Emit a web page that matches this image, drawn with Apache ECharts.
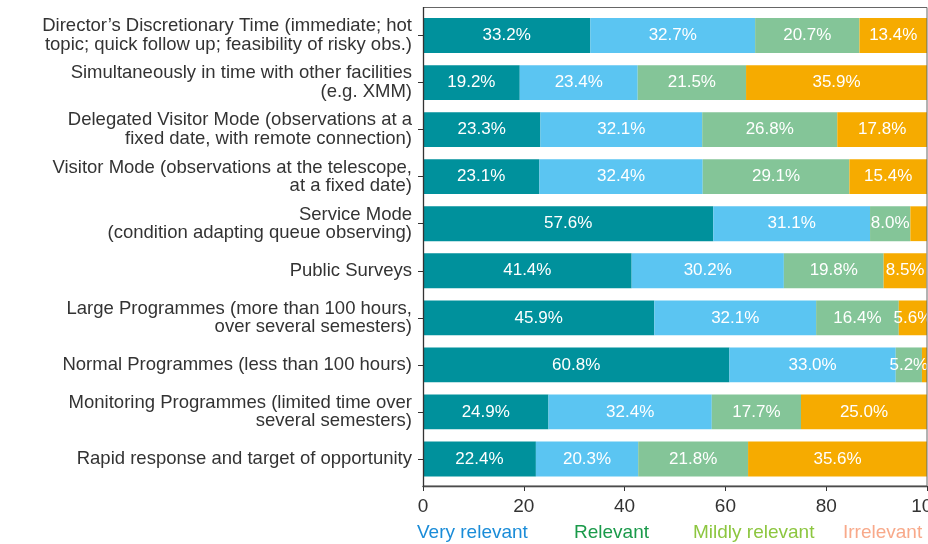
<!DOCTYPE html>
<html><head><meta charset="utf-8">
<script src="https://cdn.jsdelivr.net/npm/echarts@6/dist/echarts.min.js"></script>
<style>html,body{margin:0;padding:0;background:#fff}#c{width:928px;height:544px}</style>
</head><body><div id="c"></div>
<script>
const categories = [
  "Director’s Discretionary Time (immediate; hot\ntopic; quick follow up; feasibility of risky obs.)",
  "Simultaneously in time with other facilities\n(e.g. XMM)",
  "Delegated Visitor Mode (observations at a\nfixed date, with remote connection)",
  "Visitor Mode (observations at the telescope,\nat a fixed date)",
  "Service Mode\n(condition adapting queue observing)",
  "Public Surveys",
  "Large Programmes (more than 100 hours,\nover several semesters)",
  "Normal Programmes (less than 100 hours)",
  "Monitoring Programmes (limited time over\nseveral semesters)",
  "Rapid response and target of opportunity"
];
const seriesNames = ["Very relevant", "Relevant", "Mildly relevant", "Irrelevant"];
const veryRelevant   = [33.2, 19.2, 23.3, 23.1, 57.6, 41.4, 45.9, 60.8, 24.9, 22.4];
const relevant       = [32.7, 23.4, 32.1, 32.4, 31.1, 30.2, 32.1, 33.0, 32.4, 20.3];
const mildlyRelevant = [20.7, 21.5, 26.8, 29.1,  8.0, 19.8, 16.4,  5.2, 17.7, 21.8];
const irrelevant     = [13.4, 35.9, 17.8, 15.4,  3.3,  8.5,  5.6,  1.0, 25.0, 35.6];
const xTicks = [0, 20, 40, 60, 80, 100];

const barColors = ["#00919c", "#5bc5f2", "#84c598", "#f6ab00"];
const legendColors = ["#1a8cd8", "#1a9a4a", "#8cc63f", "#f8a98a"];
const legendLeft = [417, 574, 693, 843];
const FONT = "Liberation Sans";
const values = [veryRelevant, relevant, mildlyRelevant, irrelevant];

const chart = echarts.init(document.getElementById('c'));
chart.setOption({
  animation: false,
  textStyle: { fontFamily: FONT },
  grid: { left: 423, right: 1, top: 12, bottom: 61.5, show: false,
          containLabel: false, outerBoundsMode: 'none' },
  graphic: [{
    type: 'rect', shape: { x: 423.5, y: 7.5, width: 503.5, height: 478.5 },
    style: { fill: 'none', stroke: '#666', lineWidth: 1 }, silent: true, z: 10
  }, {
    type: 'line', shape: { x1: 423.5, y1: 7, x2: 423.5, y2: 486.5 },
    style: { stroke: '#333', lineWidth: 1.3 }, silent: true, z: 11
  }],
  legend: seriesNames.map((n, i) => ({
    data: [n], left: legendLeft[i], top: 523, itemWidth: 0, itemHeight: 0, itemGap: 0,
    padding: 0, icon: 'rect', selectedMode: false,
    textStyle: { color: legendColors[i], fontSize: 19, fontFamily: FONT, padding: [0,0,0,-5] }
  })),
  xAxis: {
    type: 'value', min: 0, max: 100, interval: 20, offset: 3.5,
    splitLine: { show: false },
    axisLine: { show: true, lineStyle: { color: '#333', width: 1.3 } },
    axisTick: { show: true, length: 5, lineStyle: { color: '#333' } },
    axisLabel: { color: '#333', fontSize: 19, margin: 11, fontFamily: FONT,
      formatter: v => xTicks.includes(v) ? String(v) : '' }
  },
  yAxis: {
    type: 'category', inverse: true, data: categories,
    axisLine: { show: false },
    axisTick: { show: true, length: 5, alignWithLabel: true, lineStyle: { color: '#333' } },
    axisLabel: { color: '#333', fontSize: 18.5, lineHeight: 18.5, margin: 11, align: 'right', fontFamily: FONT }
  },
  series: seriesNames.map((n, i) => ({
    name: n, type: 'bar', stack: 'total', data: values[i],
    barCategoryGap: '26%',
    itemStyle: { color: barColors[i] },
    label: {
      show: true, position: 'inside', color: '#fff', fontSize: 17, fontFamily: FONT,
      formatter: p => p.value >= 5 ? p.value.toFixed(1) + '%' : ''
    }
  }))
});
</script></body></html>
